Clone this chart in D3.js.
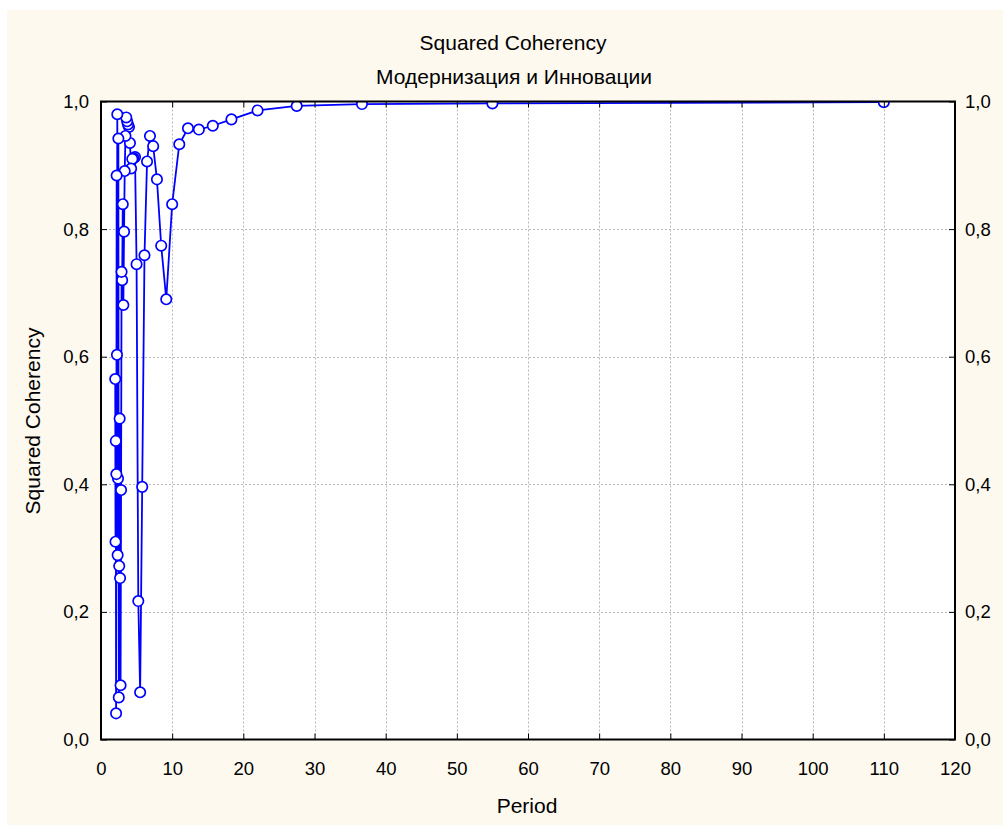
<!DOCTYPE html>
<html>
<head>
<meta charset="utf-8">
<script src="https://cdn.jsdelivr.net/npm/d3@7"></script>
<style>
  html, body { margin: 0; padding: 0; background: #ffffff; }
  svg { display: block; }
  text { font-family: "Liberation Sans", Arial, sans-serif; fill: #000; }
</style>
</head>
<body>
<svg id="chart" width="1003" height="825"></svg>
<script>
// Period (length of cycle) for each spectral frequency
const periods = [
  110, 55, 36.67, 27.5, 22, 18.33, 15.71, 13.75, 12.22, 11,
  10, 9.17, 8.46, 7.86, 7.33, 6.88, 6.47, 6.11, 5.79, 5.5,
  5.24, 5.0, 4.78, 4.58, 4.4, 4.23, 4.07, 3.93, 3.79, 3.67,
  3.55, 3.44, 3.33, 3.24, 3.14, 3.06, 2.97, 2.89, 2.82, 2.75,
  2.68, 2.62, 2.56, 2.5, 2.44, 2.39, 2.34, 2.29, 2.24, 2.2,
  2.16, 2.12, 2.08, 2.04, 2.0
];

// Squared coherency between the two series at each period
const coherency = [
  0.999, 0.997, 0.996, 0.993, 0.986, 0.972, 0.962, 0.956, 0.958, 0.933,
  0.839, 0.690, 0.774, 0.878, 0.930, 0.946, 0.906, 0.759, 0.396, 0.074,
  0.217, 0.745, 0.913, 0.911, 0.910, 0.895, 0.935, 0.960, 0.964, 0.969,
  0.975, 0.946, 0.891, 0.796, 0.681, 0.839, 0.720, 0.733, 0.391, 0.085,
  0.253, 0.503, 0.272, 0.066, 0.942, 0.409, 0.289, 0.980, 0.603, 0.884,
  0.416, 0.041, 0.468, 0.310, 0.565
];

const xTicks = [0, 10, 20, 30, 40, 50, 60, 70, 80, 90, 100, 110, 120];
const yTicks = [0, 0.2, 0.4, 0.6, 0.8, 1.0];
const yTickLabels = ["0,0", "0,2", "0,4", "0,6", "0,8", "1,0"];

const titleText = "Squared Coherency";
const subtitleText = "Модернизация и Инновации";
const xTitle = "Period";
const yTitle = "Squared Coherency";

const svg = d3.select("#chart");
const W = 1003, H = 825;
const plot = { left: 101, right: 955, top: 101.5, bottom: 739.5 };

// cream panel behind everything
svg.append("rect")
  .attr("x", 7).attr("y", 10)
  .attr("width", W - 7).attr("height", H - 10)
  .attr("fill", "#fdf9ef");

const x = d3.scaleLinear().domain([0, 120]).range([plot.left, plot.right]);
const y = d3.scaleLinear().domain([0, 1]).range([plot.bottom, plot.top]);

// plot background
svg.append("rect")
  .attr("x", plot.left).attr("y", plot.top)
  .attr("width", plot.right - plot.left).attr("height", plot.bottom - plot.top)
  .attr("fill", "#ffffff");

// dotted grid
const grid = svg.append("g").attr("stroke", "#b8b8b8").attr("stroke-width", 1)
  .attr("stroke-dasharray", "2,2");
grid.selectAll("line.gx").data(xTicks.filter(d => d > 0 && d < 120)).join("line")
  .attr("x1", d => Math.round(x(d)) + 0.5).attr("x2", d => Math.round(x(d)) + 0.5)
  .attr("y1", plot.top).attr("y2", plot.bottom);
grid.selectAll("line.gy").data(yTicks.filter(d => d > 0 && d < 1)).join("line")
  .attr("y1", d => Math.round(y(d)) + 0.5).attr("y2", d => Math.round(y(d)) + 0.5)
  .attr("x1", plot.left).attr("x2", plot.right);

// data series, clipped to the plot frame
svg.append("clipPath").attr("id", "plotClip")
  .append("rect")
  .attr("x", plot.left).attr("y", plot.top)
  .attr("width", plot.right - plot.left).attr("height", plot.bottom - plot.top);

const pts = periods.map((p, i) => ({ p, v: coherency[i] }));
const series = svg.append("g").attr("clip-path", "url(#plotClip)");

series.append("path")
  .datum(pts)
  .attr("fill", "none")
  .attr("stroke", "#0000ff")
  .attr("stroke-width", 1.8)
  .attr("d", d3.line().x(d => x(d.p)).y(d => y(d.v)));

series.selectAll("circle").data(pts).join("circle")
  .attr("cx", d => x(d.p)).attr("cy", d => y(d.v))
  .attr("r", 5.2)
  .attr("fill", "#ffffff")
  .attr("stroke", "#0000ff")
  .attr("stroke-width", 1.7);

// axes with inward ticks
const fmtY = d => yTickLabels[yTicks.findIndex(t => Math.abs(t - d) < 1e-9)];
const fontSize = "18.5px";

const axB = svg.append("g").attr("transform", `translate(0,${plot.bottom})`)
  .call(d3.axisBottom(x).tickValues(xTicks).tickSize(-6).tickPadding(22).tickFormat(d3.format("d")));
const axT = svg.append("g").attr("transform", `translate(0,${plot.top})`)
  .call(d3.axisTop(x).tickValues(xTicks).tickSize(-6).tickFormat(""));
const axL = svg.append("g").attr("transform", `translate(${plot.left},0)`)
  .call(d3.axisLeft(y).tickValues(yTicks).tickSize(-6).tickPadding(12).tickFormat(fmtY));
const axR = svg.append("g").attr("transform", `translate(${plot.right},0)`)
  .call(d3.axisRight(y).tickValues(yTicks).tickSize(-6).tickPadding(10).tickFormat(fmtY));

[axB, axT, axL, axR].forEach(a => {
  a.select(".domain").remove();
  a.selectAll(".tick line").attr("stroke", "#000").attr("stroke-width", 1);
  a.selectAll(".tick text").style("font-family", '"Liberation Sans", Arial, sans-serif')
    .style("font-size", fontSize).attr("fill", "#000");
});

// frame
svg.append("rect")
  .attr("x", plot.left).attr("y", plot.top)
  .attr("width", plot.right - plot.left).attr("height", plot.bottom - plot.top)
  .attr("fill", "none").attr("stroke", "#000").attr("stroke-width", 2);

// titles
const titleSize = "21px";
svg.append("text").attr("x", 513).attr("y", 50).attr("text-anchor", "middle")
  .style("font-size", titleSize).text(titleText);
svg.append("text").attr("x", 514).attr("y", 84).attr("text-anchor", "middle")
  .style("font-size", titleSize).text(subtitleText);
svg.append("text").attr("x", 527).attr("y", 813).attr("text-anchor", "middle")
  .style("font-size", titleSize).text(xTitle);
svg.append("text")
  .attr("transform", `translate(40,421) rotate(-90)`)
  .attr("text-anchor", "middle")
  .style("font-size", titleSize).text(yTitle);
</script>
</body>
</html>
